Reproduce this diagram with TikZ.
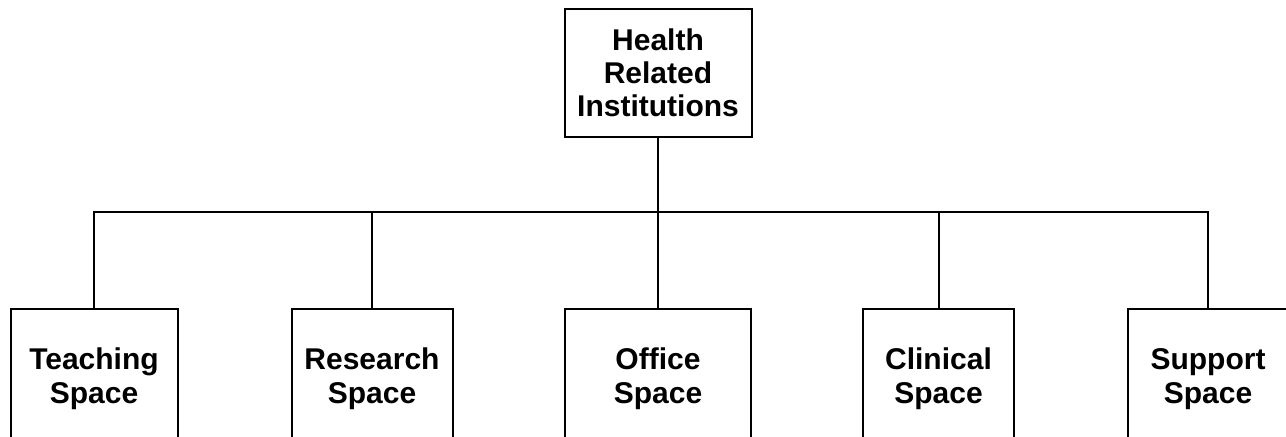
\documentclass[tikz,border=0pt]{standalone}
\usepackage{fontspec}
\setmainfont{Liberation Sans}
\usepackage{tikz}
\usetikzlibrary{positioning}

\tikzset{
	orgbox/.style={draw, line width=1pt, align=center, inner sep=0pt},
	rootbox/.style={orgbox, minimum width=93.5pt, minimum height=64pt,
		font=\bfseries\fontsize{15}{16.5}\selectfont},
	childbox/.style={orgbox, anchor=north, minimum height=80pt, text depth=13pt,
		font=\bfseries\fontsize{15}{17}\selectfont},
	link/.style={draw, line width=1pt}
}

\begin{document}
\begin{tikzpicture}[x=0.5pt,y=-0.5pt]
			\useasboundingbox (0,0) rectangle (1286,437);
			% root of the chart
			\node [rootbox] (hri) at (658,73) {Health\\Related\\Institutions};
			\coordinate (hub) at (658,212);
			% the five kinds of space
			\node [childbox, minimum width=83.5pt] (teach) at (94,308) {Teaching\\Space};
			\node [childbox, minimum width=80.5pt] (research) at (372,308) {Research\\Space};
			\node [childbox, minimum width=93pt] (office) at (658,308) {Office\\Space};
			\node [childbox, minimum width=75.5pt] (clinical) at (938.5,308) {Clinical\\Space};
			\node [childbox, minimum width=80pt] (support) at (1208,308) {Support\\Space};
			% connectors
			\draw [link] (hri.south) -- (hub);
			\draw [link] (teach.north) |- (hub) -| (support.north);
			\draw [link] (research.north) -- (research.north |- hub);
			\draw [link] (hub) -- (office.north);
			\draw [link] (clinical.north) -- (clinical.north |- hub);
\end{tikzpicture}
\end{document}
